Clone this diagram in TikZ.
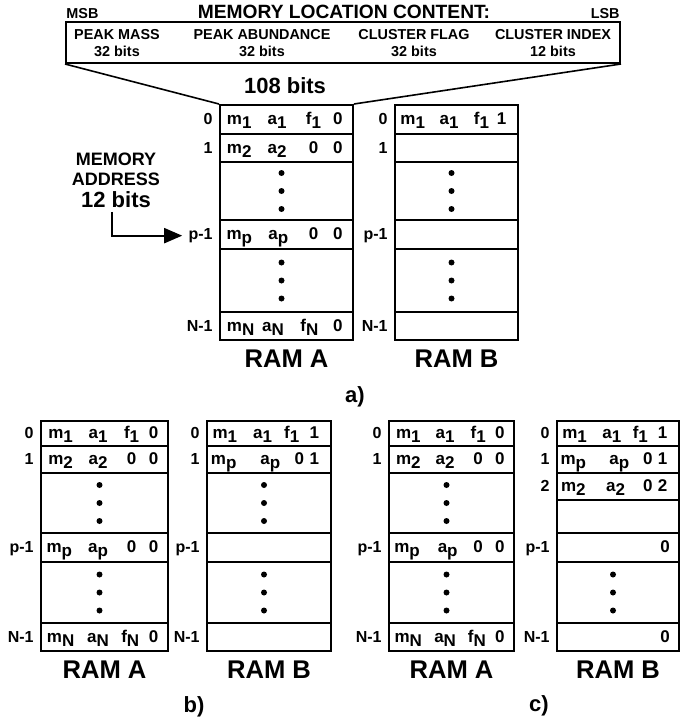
\documentclass[tikz,border=0pt]{standalone}
\usepackage{fontspec}
\setmainfont{Liberation Sans}
\usetikzlibrary{arrows.meta,calc}
\newcommand{\sbs}[2]{#1\raisebox{-0.5ex}{#2}}
% one RAM column: prefix, left x, right x, rows top/bottom/id/label
\newcommand{\memblock}[4]{%
  \foreach \t/\b/\n/\l in {#4} {
    \node[memrow, minimum width={(#3-#2)*0.5pt}, minimum height={(\b-\t)*0.5pt}] (#1\n) at ({(#2+#3)/2},{(\t+\b)/2}) {};
    \node[idx] (t#1\n) at ($(#1\n.west)+(-6,5)$) {\l};
  }}
\newcommand{\cells}[2]{%
  \foreach \p/\s [count=\k] in {#2}
    \node[entry] (#1c\k) at ($(#1.west)!\p!(#1.east)+(0,5)$) {\s};}
\newcommand{\dotsin}[1]{%
  \foreach \d in {-18,0,18} \fill ($(#1.center)+(-5,\d)$) circle (1.5pt);}
\tikzset{
  memrow/.style={draw, line width=1pt, inner sep=0pt},
  wordbox/.style={draw, line width=1pt, inner sep=0pt, minimum width=277pt, minimum height=20.5pt},
  entry/.style={anchor=base, inner sep=0pt, font=\bfseries\fontsize{8.5}{9}\selectfont},
  idx/.style={anchor=base east, inner sep=0pt, font=\bfseries\fontsize{8}{9}\selectfont},
  hdr/.style={align=center, inner sep=0pt, font=\bfseries\fontsize{7.2}{8.5}\selectfont},
  tag/.style={inner sep=0pt, font=\bfseries\fontsize{7.2}{8.5}\selectfont},
  titletxt/.style={inner sep=0pt, font=\bfseries\fontsize{9.6}{11}\selectfont},
  ramlbl/.style={inner sep=0pt, font=\bfseries\fontsize{12.8}{14}\selectfont},
  panel/.style={inner sep=0pt, font=\bfseries\fontsize{11}{13}\selectfont},
  addrarrow/.style={line width=1pt, -{Triangle[length=9pt,width=7.5pt]}, shorten >=3pt},
  funnel/.style={line width=0.8pt},
}
\begin{document}
\begin{tikzpicture}[x=0.5pt, y=-0.5pt]
\useasboundingbox (0,0) rectangle (690,722);
% memory word
\node[wordbox] (word) at (343,42.5) {};
\node[tag, anchor=base west] (msb) at (66,18.5) {MSB};
\node[titletxt, anchor=base] (title) at (344,18.5) {MEMORY LOCATION CONTENT:};
\node[tag, anchor=base east] (lsb) at (620,18.5) {LSB};
\node[hdr] (fmass) at (117,43.5) {PEAK MASS\\32 bits};
\node[hdr] (fabund) at (262,43.5) {PEAK ABUNDANCE\\32 bits};
\node[hdr] (fflag) at (414,43.5) {CLUSTER FLAG\\32 bits};
\node[hdr] (findex) at (553,43.5) {CLUSTER INDEX\\12 bits};
\node[panel] (wbits) at (285,86) {108 bits};

% a)
\memblock{aA}{220}{353}{105/134/0/0, 134/162/1/1, 162/220/d/{}, 220/249/p/p-1, 249/312/e/{}, 312/340/N/N-1}
\memblock{aB}{395}{518}{105/134/0/0, 134/162/1/1, 162/220/d/{}, 220/249/p/p-1, 249/312/e/{}, 312/340/N/N-1}
\cells{aA0}{.15/\sbs{m}{1}, .43/\sbs{a}{1}, .70/\sbs{f}{1}, .88/0}
\cells{aA1}{.15/\sbs{m}{2}, .43/\sbs{a}{2}, .70/0, .88/0}
\cells{aAp}{.15/\sbs{m}{p}, .44/\sbs{a}{p}, .70/0, .88/0}
\cells{aAN}{.16/\sbs{m}{N}, .40/\sbs{a}{N}, .67/\sbs{f}{N}, .88/0}
\cells{aB0}{.15/\sbs{m}{1}, .44/\sbs{a}{1}, .70/\sbs{f}{1}, .86/1}
\dotsin{aAd} \dotsin{aAe} \dotsin{aBd} \dotsin{aBe}
\node[ramlbl] (laA) at ($(aAN.south)+(0,17.5)$) {RAM A};
\node[ramlbl] (laB) at ($(aBN.south)+(0,17.5)$) {RAM B};
\node[panel] (pa) at (355,397) {a)};
\node[align=center, inner sep=0pt, font=\bfseries\fontsize{9}{10}\selectfont] (addr) at (116,180)
  {MEMORY\\ADDRESS\\[1pt]{\fontsize{11}{12}\selectfont 12 bits}};
\draw[funnel] (word.south west) -- (aA0.north west);
\draw[funnel] (word.south east) -- (aA0.north east);
\draw[addrarrow] ([xshift=-2pt,yshift=-2pt]addr.south) |- (taAp.west);

% b)
\memblock{bA}{41}{168}{421/446/0/0, 446/473/1/1, 473/533/d/{}, 533/562/p/p-1, 562/623/e/{}, 623/651/N/N-1}
\memblock{bB}{207}{331}{421/446/0/0, 446/473/1/1, 473/533/d/{}, 533/562/p/p-1, 562/623/e/{}, 623/651/N/N-1}
\cells{bA0}{.16/\sbs{m}{1}, .45/\sbs{a}{1}, .71/\sbs{f}{1}, .88/0}
\cells{bA1}{.16/\sbs{m}{2}, .45/\sbs{a}{2}, .71/0, .88/0}
\cells{bAp}{.15/\sbs{m}{p}, .45/\sbs{a}{p}, .71/0, .88/0}
\cells{bAN}{.16/\sbs{m}{N}, .45/\sbs{a}{N}, .70/\sbs{f}{N}, .88/0}
\cells{bB0}{.15/\sbs{m}{1}, .45/\sbs{a}{1}, .68/\sbs{f}{1}, .86/1}
\cells{bB1}{.14/\sbs{m}{p}, .51/\sbs{a}{p}, .74/0, .86/1}
\dotsin{bAd} \dotsin{bAe} \dotsin{bBd} \dotsin{bBe}
\node[ramlbl] (lbA) at ($(bAN.south)+(0,18)$) {RAM A};
\node[ramlbl] (lbB) at ($(bBN.south)+(0,18)$) {RAM B};
\node[panel] (pb) at (194,707) {b)};

% c)
\memblock{cA}{389}{514}{421/446/0/0, 446/473/1/1, 473/533/d/{}, 533/562/p/p-1, 562/623/e/{}, 623/651/N/N-1}
\memblock{cB}{557}{679}{421/446/0/0, 446/473/1/1, 473/500/2/2, 500/533/f/{}, 533/562/p/p-1, 562/623/e/{}, 623/651/N/N-1}
\cells{cA0}{.16/\sbs{m}{1}, .45/\sbs{a}{1}, .71/\sbs{f}{1}, .88/0}
\cells{cA1}{.16/\sbs{m}{2}, .45/\sbs{a}{2}, .71/0, .88/0}
\cells{cAp}{.15/\sbs{m}{p}, .47/\sbs{a}{p}, .71/0, .88/0}
\cells{cAN}{.16/\sbs{m}{N}, .45/\sbs{a}{N}, .70/\sbs{f}{N}, .88/0}
\cells{cB0}{.15/\sbs{m}{1}, .45/\sbs{a}{1}, .68/\sbs{f}{1}, .86/1}
\cells{cB1}{.14/\sbs{m}{p}, .51/\sbs{a}{p}, .74/0, .86/1}
\cells{cB2}{.14/\sbs{m}{2}, .48/\sbs{a}{2}, .74/0, .86/2}
\cells{cBp}{.88/0}
\cells{cBN}{.88/0}
\dotsin{cAd} \dotsin{cAe} \dotsin{cBe}
\node[ramlbl] (lcA) at ($(cAN.south)+(0,18)$) {RAM A};
\node[ramlbl] (lcB) at ($(cBN.south)+(0,18)$) {RAM B};
\node[panel] (pc) at (539,706) {c)};
\end{tikzpicture}
\end{document}
